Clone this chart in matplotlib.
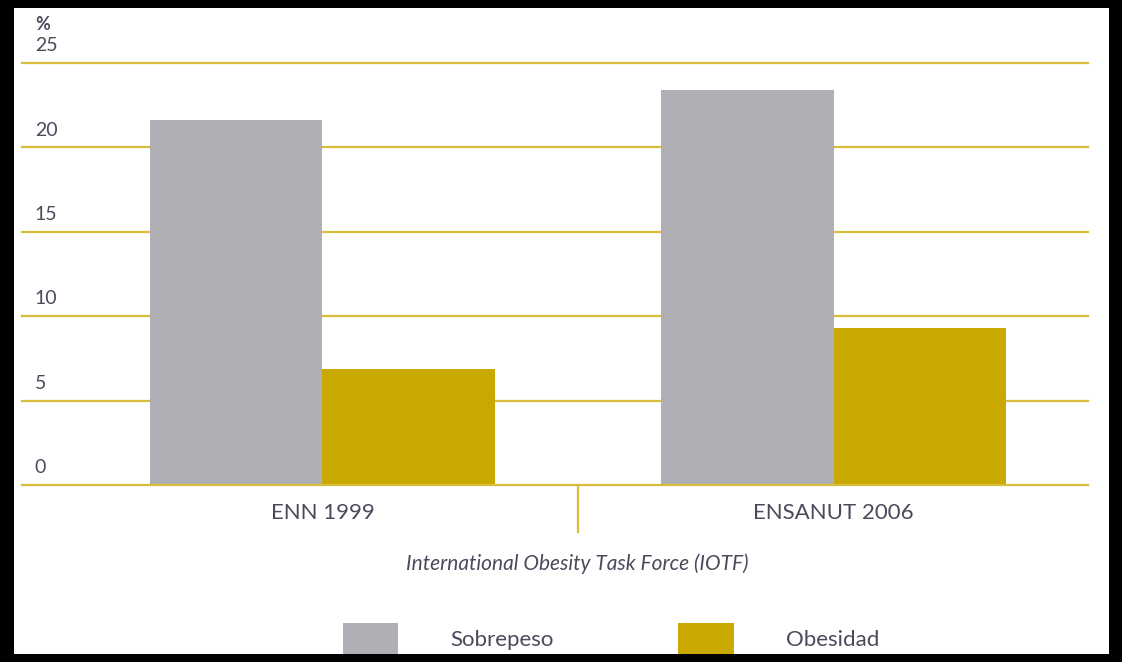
import numpy as np
import matplotlib
matplotlib.use('Agg')
import matplotlib.pyplot as plt
from matplotlib.patches import Rectangle, Patch

categories = ['ENN 1999', 'ENSANUT 2006']
sobrepeso = [21.6, 23.4]
obesidad = [6.9, 9.3]
series_names = ['Sobrepeso', 'Obesidad']
yticks = [0, 5, 10, 15, 20, 25]

GRAY = '#b0afb5'
GOLD = '#c9a800'
GRID = '#d9bc3c'
TEXT = '#4a4a5c'

plt.rcParams['font.family'] = ['Lato', 'DejaVu Sans']

W, H = 1122, 662
fig = plt.figure(figsize=(W / 100, H / 100), dpi=100)
fig.patch.set_facecolor('white')

# axes placed from pixel positions of the reference
x0, x1 = 22, 1088
y0, y1 = 485, 63
ax = fig.add_axes([x0 / W, 1 - y0 / H, (x1 - x0) / W, (y0 - y1) / H])

x = np.arange(len(categories))
width = 0.337
ax.bar(x - width / 2, sobrepeso, width, color=GRAY, zorder=3)
ax.bar(x + width / 2, obesidad, width, color=GOLD, zorder=3)

ax.set_xlim(-0.588, 1.498)
ax.set_ylim(0, 25)
for v in yticks:
    ax.axhline(v, color=GRID, lw=1.6, zorder=1 if v else 4, clip_on=False)
    ax.annotate(str(v), xy=(0.012, v), xycoords=ax.get_yaxis_transform(),
                xytext=(0, 12.5), textcoords='offset points', ha='left',
                va='center', fontsize=14, color=TEXT)
ax.text(0.012, 1.092, '%', transform=ax.transAxes, ha='left', va='center',
        fontsize=13, fontweight='bold', color=TEXT)

ax.set_yticks([])
ax.set_xticks(x, categories)
ax.tick_params(axis='x', length=0, pad=13, labelsize=16, labelcolor=TEXT)
for s in ax.spines.values():
    s.set_visible(False)

# separator between the two groups
ax.plot([0.5, 0.5], [0, -0.112], transform=ax.get_xaxis_transform(),
        color=GRID, lw=1.6, clip_on=False)

fig.text(577 / W, 1 - 564 / H, 'International Obesity Task Force (IOTF)',
         ha='center', va='center', fontsize=15, fontstyle='italic', color=TEXT)

handles = [Patch(facecolor=GRAY), Patch(facecolor=GOLD)]
fig.legend(handles, series_names, loc='center', ncol=2,
           bbox_to_anchor=(611 / W, 1 - 639 / H), frameon=False,
           fontsize=16, labelcolor=TEXT, handlelength=2.5, handleheight=1.8,
           handletextpad=2.35, columnspacing=5.6, borderpad=0)

# black frame around the picture
for rect in [(0, 0, 14 / W, 1), (0, 0, 1, 8 / H),
             (1 - 13 / W, 0, 13 / W, 1), (0, 1 - 8 / H, 1, 8 / H)]:
    fig.add_artist(Rectangle(rect[:2], rect[2], rect[3],
                             transform=fig.transFigure, facecolor='black',
                             edgecolor='none', zorder=100))

fig.savefig('out.png', dpi=100)
